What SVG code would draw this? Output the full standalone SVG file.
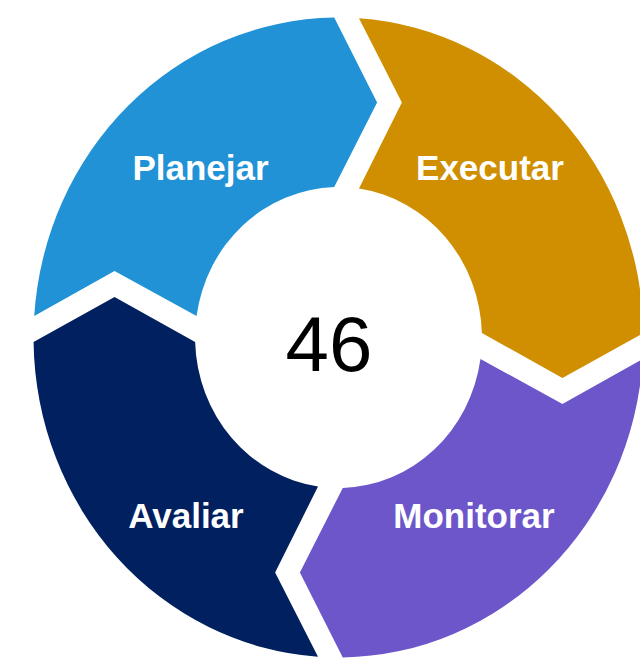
<svg xmlns="http://www.w3.org/2000/svg" width="640" height="661" viewBox="0 0 640 661">
  <style>
    .lbl { font-family: "Liberation Sans", Arial, sans-serif; font-weight: bold; font-size: 35px; fill: #ffffff; text-anchor: middle; }
    .num { font-family: "Liberation Sans", Arial, sans-serif; font-size: 78px; fill: #000000; text-anchor: middle; }
  </style>
  <defs>
    <path id="seg" d="M -319.28,-21.5 A 320,320 0 0 1 -4.5,-319.97 L 40.5,-235 L -4.5,-150.43 A 150.5,150.5 0 0 0 -148.96,-21.5 L -235,-66.5 Z"/>
  </defs>
  <rect width="640" height="661" fill="#ffffff"/>
  <g transform="translate(338.5,337.5) scale(0.953,1)">
    <g id="planejar-shape"><use href="#seg" fill="#2292D6"/></g>
    <g id="executar-shape"><use href="#seg" fill="#CF8F00" transform="rotate(90)"/></g>
    <g id="monitorar-shape"><use href="#seg" fill="#6C56CA" transform="rotate(180)"/></g>
    <g id="avaliar-shape"><use href="#seg" fill="#00205F" transform="rotate(270)"/></g>
  </g>
  <g id="planejar"><text class="lbl" x="200.5" y="179.5">Planejar</text></g>
  <g id="executar"><text class="lbl" x="490" y="179.5">Executar</text></g>
  <g id="monitorar"><text class="lbl" x="474" y="527.5">Monitorar</text></g>
  <g id="avaliar"><text class="lbl" x="186" y="527.5">Avaliar</text></g>
  <g id="center"><text class="num" x="329" y="371">46</text></g>
  <g id="connectors"></g>
</svg>
